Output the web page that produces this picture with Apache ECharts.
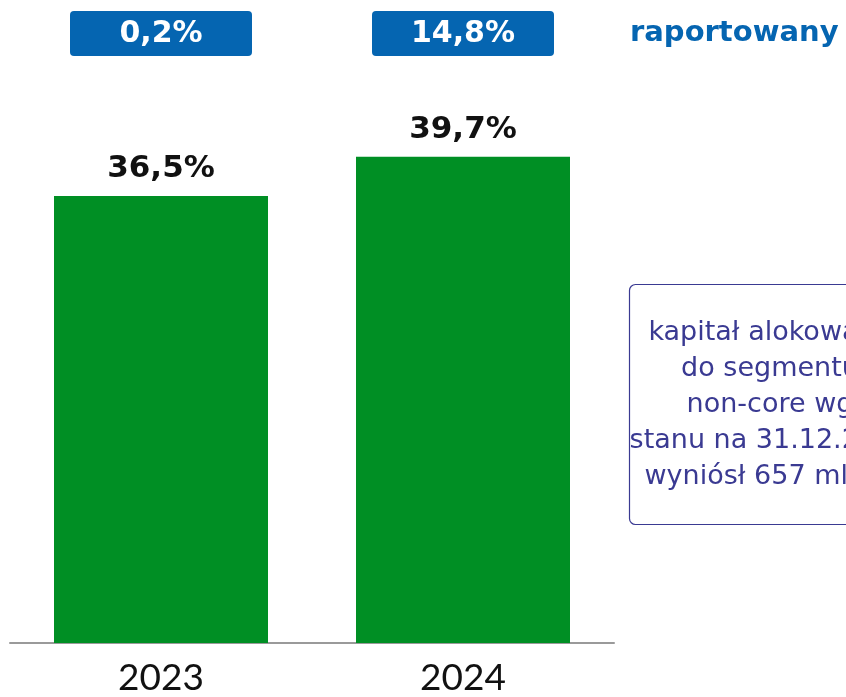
<!DOCTYPE html>
<html>
<head>
<meta charset="utf-8">
<script src="https://cdn.jsdelivr.net/npm/echarts@6/dist/echarts.min.js"></script>
<style>
  html, body { margin: 0; padding: 0; background: #fff; }
  #chart { width: 846px; height: 697px; }
</style>
</head>
<body>
<div id="chart"></div>
<script>
  // data
  var years = ['2023', '2024']
  var shares = [36.5, 39.7]
  var changes = ['0,2%', '14,8%']
  var changeNote = 'raportowany'
  var noteLines = ['kapitał alokowany', 'do segmentu', 'non-core wg', 'stanu na 31.12.2024', 'wyniósł 657 mln zł']

  var blue = '#0565b1'
  var navy = '#3a3a92'

  var chart = echarts.init(document.getElementById('chart'))

  chart.setOption({
    animation: false,
    grid: {
      left: 10,
      right: 232,
      top: 153,
      bottom: 49
    },
    xAxis: {
      type: 'category',
      data: years,
      axisTick: { show: false },
      axisLine: { lineStyle: { color: '#9a9a9a', width: 2 } },
      axisLabel: {
        color: '#111',
        fontSize: 37,
        fontFamily: 'Lato',
        margin: 17
      }
    },
    yAxis: {
      type: 'value',
      min: 0,
      max: 40,
      show: false
    },
    series: [{
      type: 'bar',
      data: shares,
      barWidth: 214,
      itemStyle: { color: '#008f24' },
      label: {
        show: true,
        position: 'top',
        distance: 11,
        color: '#111',
        fontSize: 31,
        fontWeight: 'bold',
        fontFamily: 'DejaVu Sans',
        formatter: function (p) {
          return p.value.toFixed(1).replace('.', ',') + '%'
        }
      }
    }]
  })

  // boxes over each category, x from the category axis
  var graphics = []
  changes.forEach(function (txt, i) {
    var cx = chart.convertToPixel({ xAxisIndex: 0 }, years[i])
    graphics.push({
      type: 'rect',
      shape: { x: cx - 91, y: 11, width: 182, height: 45, r: 4 },
      style: { fill: blue }
    })
    graphics.push({
      type: 'text',
      x: cx,
      y: 34,
      style: {
        text: txt,
        fill: '#fff',
        font: 'bold 30px "DejaVu Sans"',
        textAlign: 'center',
        textVerticalAlign: 'middle'
      }
    })
  })

  graphics.push({
    type: 'text',
    x: 630,
    y: 33,
    style: {
      text: changeNote,
      fill: blue,
      font: 'bold 29px "DejaVu Sans"',
      textAlign: 'left',
      textVerticalAlign: 'middle'
    }
  })

  graphics.push({
    type: 'rect',
    shape: { x: 629.5, y: 284.5, width: 290, height: 240, r: 6 },
    style: { fill: 'none', stroke: navy, lineWidth: 1.2 }
  })
  graphics.push({
    type: 'text',
    x: 770,
    y: 405,
    style: {
      text: noteLines.join('\n'),
      fill: navy,
      font: '27px "DejaVu Sans"',
      lineHeight: 36,
      textAlign: 'center',
      textVerticalAlign: 'middle'
    }
  })

  chart.setOption({ graphic: graphics })
</script>
</body>
</html>
